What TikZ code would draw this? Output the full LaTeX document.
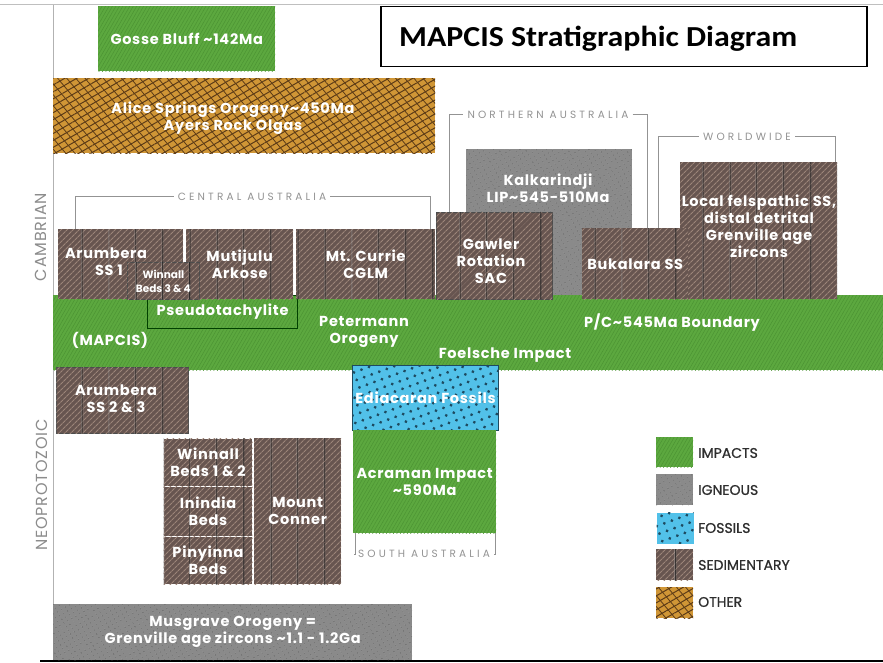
\documentclass[tikz,border=0pt]{standalone}
\usepackage{fontspec}
\setmainfont{Poppins}
\newfontfamily\titlefont{Carlito}
\newfontfamily\boxfamily{Poppins}[LetterSpace=5]
\newfontfamily\spacedfont{Poppins}[LetterSpace=30]
\newfontfamily\erafamily{Poppins}[LetterSpace=5]
\newfontfamily\keyfamily{Poppins}[FakeBold=0.8]
\usetikzlibrary{patterns.meta}

\definecolor{impactgreen}{HTML}{5CA83F}
\definecolor{impactdark}{HTML}{4C9433}
\definecolor{igneousgray}{HTML}{8A8A8A}
\definecolor{igneousdot}{HTML}{505050}
\definecolor{fossilblue}{HTML}{52C1E9}
\definecolor{fossildot}{HTML}{1E4A60}
\definecolor{sedbrown}{HTML}{675550}
\definecolor{sedlight}{HTML}{9C8579}
\definecolor{otherorange}{HTML}{D09636}
\definecolor{otherdark}{HTML}{5C3B17}
\definecolor{bracketgray}{HTML}{939393}
\definecolor{eragray}{HTML}{8C8C8C}
\definecolor{legendtext}{HTML}{2E2E2E}

\newcommand\lblfont{\boxfamily\bfseries\fontsize{14.5}{17}\selectfont}
\newcommand\smalllblfont{\bfseries\fontsize{10.5}{14}\selectfont}
\newcommand\bracketfont{\spacedfont\fontsize{10.5}{12}\selectfont}
\newcommand\erafont{\erafamily\fontsize{16}{18}\selectfont}
\newcommand\keyfont{\keyfamily\fontsize{14}{16}\selectfont}

\tikzset{
	boxsize/.style 2 args={minimum width=#1pt, minimum height=#2pt},
	box/.style={rectangle, inner sep=0pt, anchor=north west, align=center, text=white, font=\lblfont},
	impact/.style={box, fill=impactgreen, postaction={pattern={Lines[angle=60,distance=3pt,line width=.5pt]}, pattern color=impactdark}},
	igneous/.style={box, fill=igneousgray, postaction={pattern={Dots[distance=4pt,radius=.5pt,angle=30]}, pattern color=igneousdot}},
	fossil/.style={box, fill=fossilblue, draw=fossildot, line width=1pt, postaction={pattern={Dots[distance=8pt,radius=1.6pt,angle=20]}, pattern color=fossildot}},
	sediment/.style={box, fill=sedbrown, postaction={pattern={Lines[angle=45,distance=4pt,line width=1.1pt]}, pattern color=sedlight}, postaction={pattern={Lines[angle=90,distance=27pt,line width=1.2pt]}, pattern color=black!85}},
	other/.style={box, fill=otherorange, postaction={pattern={Lines[angle=30,distance=6pt,line width=1pt]}, pattern color=otherdark}, postaction={pattern={Lines[angle=-50,distance=7pt,line width=.8pt]}, pattern color=otherdark}},
	txt/.style={text=white, align=center, font=\lblfont, inner sep=0pt},
	bracket/.style={draw=bracketgray, line width=1pt},
	bracketlbl/.style={text=bracketgray, inner sep=4pt, font=\bracketfont},
	era/.style={text=eragray, rotate=90, font=\erafont},
	keytxt/.style={anchor=west, text=legendtext, font=\keyfont, inner sep=0pt}
}

\begin{document}
\begin{tikzpicture}
	[x=1pt, y=-1pt]

	\fill[white] (0,0) rectangle (883,663);
	\useasboundingbox (0,0) rectangle (883,663);

	% frame and time axis
	\draw[black!25, line width=1pt] (0,5) -- (883,5);
	\draw[black!30, line width=1pt] (53,5) -- (53,660);
	\draw[black, line width=2pt] (40,661) -- (883,661);
	\node[era] (cambrian) at (41,237) {CAMBRIAN};
	\node[era] (neoprot) at (42,485) {NEOPROTOZOIC};

	% title
	\node[draw=black, line width=1.5pt, anchor=north west, boxsize={486}{60}] (titlebox) at (380,6) {};
	\node[anchor=base west, inner sep=0pt, font=\titlefont\bfseries\fontsize{29}{32}\selectfont] (title) at (399,47) {\scalebox{1.1}[1]{MAPCIS Stratigraphic Diagram}};

	% top of column
	\node[impact, boxsize={177}{65}] (gosse) at (98,6) {Gosse Bluff \textasciitilde142Ma};
	\node[other, boxsize={382}{75}] (alice) at (53,78) {};
	\node[txt] (alice-txt) at (233,118) {Alice Springs Orogeny\textasciitilde450Ma\\Ayers Rock Olgas};

	% region brackets
	\node[bracketlbl] (central) at (252,197) {CENTRAL AUSTRALIA};
	\node[bracketlbl] (northern) at (548,115) {NORTHERN AUSTRALIA};
	\node[bracketlbl] (worldwide) at (747,137) {WORLDWIDE};
	\coordinate (central-l) at (75,229);
	\coordinate (central-r) at (430,229);
	\coordinate (northern-l) at (449,212);
	\coordinate (northern-r) at (647,228);
	\coordinate (worldwide-l) at (658,228);
	\coordinate (worldwide-r) at (835,162);
	\draw[bracket] (central-l) |- (central) -| (central-r);
	\draw[bracket] (northern-l) |- (northern) -| (northern-r);
	\draw[bracket] (worldwide-l) |- (worldwide) -| (worldwide-r);

	% cambrian units
	\node[igneous, boxsize={166}{146}] (kalkarindji) at (466,149) {};
	\node[txt] (kalkarindji-txt) at (548,188) {Kalkarindji\\LIP\textasciitilde545-510Ma};
	\node[impact, boxsize={830}{75}] (petermann) at (53,295) {};
	\node[txt] (mapcis) at (110,340) {(MAPCIS)};
	\node[txt] (petermann-txt) at (364,332) {Petermann\\Orogeny};
	\node[txt] (boundary) at (672,323) {P/C\textasciitilde545Ma Boundary};
	\node[txt] (foelsche) at (505,355) {Foelsche Impact};
	\node[box, draw=black!75!green, line width=1pt, boxsize={150}{33}] (pseudo) at (147,295) {Pseudotachylite};
	\node[sediment, boxsize={157}{137}] (local) at (680,162) {};
	\node[txt] (local-txt) at (759,226) {Local felspathic SS,\\distal detrital\\Grenville age\\zircons};
	\node[sediment, boxsize={106}{71}] (bukalara) at (582,228) {Bukalara SS};
	\node[sediment, draw=black!70, line width=.8pt, boxsize={116}{87}] (gawler) at (436,212) {};
	\node[txt] (gawler-txt) at (491,261) {Gawler\\Rotation\\SAC};
	\node[sediment, boxsize={125}{70}] (arumbera1) at (58,229) {};
	\node[txt] (arumbera1-txt) at (106,262) {Arumbera\\\hspace*{6pt}SS 1};
	\node[sediment, boxsize={107}{70}] (mutijulu) at (186,229) {Mutijulu\\Arkose};
	\node[sediment, boxsize={139}{70}] (currie) at (296,229) {Mt. Currie\\CGLM};
	\node[sediment, draw=black!70, line width=.8pt, boxsize={72}{37}, font=\smalllblfont] (winnall34) at (127,262) {Winnall\\Beds 3 \& 4};

	% neoproterozoic units
	\node[sediment, draw=black!70, line width=.8pt, boxsize={132}{66}] (arumbera23) at (56,367) {};
	\node[txt] (arumbera23-txt) at (116,399) {Arumbera\\SS 2 \& 3};
	\node[fossil, boxsize={146}{65}] (ediacaran) at (352,365) {Ediacaran Fossils};
	\node[impact, boxsize={143}{103}] (acraman) at (353,430) {Acraman Impact\\\textasciitilde590Ma};
	\node[sediment, draw=white, line width=1pt, boxsize={89}{48}] (winnall12) at (163,438) {Winnall\\Beds 1 \& 2};
	\node[sediment, draw=white, line width=1pt, boxsize={89}{50}] (inindia) at (163,486) {Inindia\\Beds};
	\node[sediment, draw=white, line width=1pt, boxsize={89}{48}] (pinyinna) at (163,536) {Pinyinna\\Beds};
	\node[sediment, boxsize={87}{146}] (conner) at (254,438) {Mount\\Conner};
	\node[igneous, boxsize={359}{56}] (musgrave) at (53,604) {Musgrave Orogeny =\\Grenville age zircons \textasciitilde1.1 - 1.2Ga};

	\node[bracketlbl] (southern) at (424,554) {SOUTH AUSTRALIA};
	\coordinate (southern-l) at (355,533);
	\coordinate (southern-r) at (495,533);
	\draw[bracket] (southern-l) |- (southern) -| (southern-r);

	% legend
	\node[impact, boxsize={37}{30}] (key1) at (656,437) {};
	\node[igneous, boxsize={37}{31}] (key2) at (656,474) {};
	\node[fossil, draw=none, boxsize={37}{31}] (key3) at (656,512) {};
	\node[sediment, boxsize={37}{31}] (key4) at (656,549) {};
	\node[other, boxsize={37}{31}] (key5) at (656,587) {};
	\node[keytxt] (key1-txt) at (698,453) {IMPACTS};
	\node[keytxt] (key2-txt) at (698,490) {IGNEOUS};
	\node[keytxt] (key3-txt) at (698,528) {FOSSILS};
	\node[keytxt] (key4-txt) at (698,565) {SEDIMENTARY};
	\node[keytxt] (key5-txt) at (698,602) {OTHER};
\end{tikzpicture}
\end{document}
